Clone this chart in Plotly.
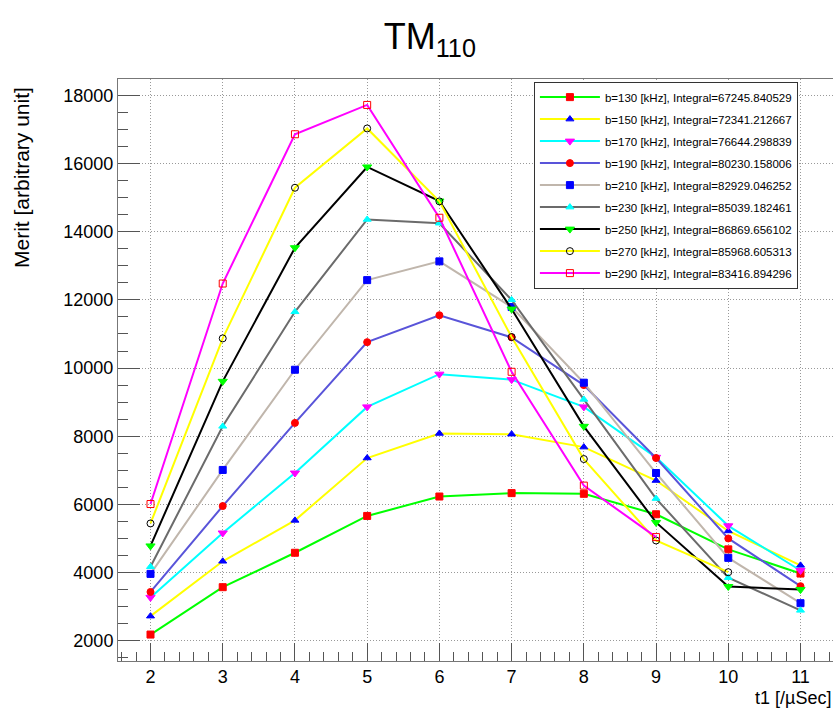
import plotly.graph_objects as go

t1 = [2, 3, 4, 5, 6, 7, 8, 9, 10, 11]

b130 = [2180, 3570, 4580, 5660, 6230, 6330, 6310, 5710, 4680, 3970]
b150 = [2720, 4330, 5530, 7360, 8080, 8060, 7680, 6700, 5220, 4210]
b170 = [3270, 5160, 6920, 8860, 9820, 9660, 8860, 7380, 5370, 4060]
b190 = [3430, 5950, 8390, 10760, 11550, 10900, 9500, 7360, 5000, 3600]
b210 = [3960, 7010, 9950, 12580, 13130, 11790, 9570, 6920, 4430, 3100]
b230 = [4170, 8290, 11650, 14360, 14250, 12000, 9080, 6170, 3850, 2890]
b250 = [4780, 9610, 13530, 15900, 14900, 11730, 8290, 5470, 3590, 3500]
b270 = [5440, 10870, 15290, 17030, 14890, 10910, 7330, 4940, 4010]
b290 = [6010, 12480, 16860, 17720, 14410, 9890, 6550, 5040]

labels = [
    "b=130 [kHz], Integral=67245.840529",
    "b=150 [kHz], Integral=72341.212667",
    "b=170 [kHz], Integral=76644.298839",
    "b=190 [kHz], Integral=80230.158006",
    "b=210 [kHz], Integral=82929.046252",
    "b=230 [kHz], Integral=85039.182461",
    "b=250 [kHz], Integral=86869.656102",
    "b=270 [kHz], Integral=85968.605313",
    "b=290 [kHz], Integral=83416.894296",
]

series = [b130, b150, b170, b190, b210, b230, b250, b270, b290]
line_colors = ["#00ff00", "#ffff00", "#00ffff", "#5954d9", "#c0b6ac",
               "#6b6b6b", "#000000", "#ffff00", "#ff00ff"]
marker_colors = ["#ff0000", "#0000ff", "#ff00ff", "#ff0000", "#0000ff",
                 "#00ffff", "#00ff00", "#000000", "#ff0000"]
symbols = ["square", "triangle-up", "triangle-down", "circle", "square",
           "triangle-up", "triangle-down", "circle-open", "square-open"]
sizes = [7, 7, 8, 7, 7, 7, 8, 7, 7]

fig = go.Figure()
for i, (ys, lab) in enumerate(zip(series, labels)):
    fig.add_trace(go.Scatter(
        x=t1[:len(ys)], y=ys, mode="lines+markers", name=lab,
        legendgroup=str(i),
        line=dict(color=line_colors[i], width=2),
        marker=dict(symbol=symbols[i], color=marker_colors[i], size=sizes[i],
                    line=dict(width=1, color=marker_colors[i]))
    ))

FONT = "Liberation Sans, Arial, Helvetica, sans-serif"
GRID = dict(showgrid=True, gridcolor="#999999", griddash="1px,2px",
            gridwidth=1, zeroline=False)

fig.update_layout(
    width=833, height=713,
    margin=dict(l=118, r=0, t=79, b=52, pad=0),
    paper_bgcolor="white", plot_bgcolor="white",
    font=dict(family=FONT, color="black"),
    title=dict(text="TM<sub>110</sub>", x=0.516, xanchor="center",
               y=0.949, yanchor="middle", font=dict(size=36, family=FONT)),
    showlegend=True,
    legend=dict(x=0.5817, y=0.9955, xanchor="left", yanchor="top",
                bgcolor="white", bordercolor="#333333", borderwidth=1,
                font=dict(size=11.5, family=FONT), tracegroupgap=3.0,
                itemwidth=60, traceorder="grouped"),
    xaxis=dict(range=[1.55, 11.45], tickvals=t1, ticks="inside", ticklen=18,
               tickcolor="#555555", showline=True, linecolor="#777777",
               mirror=True, tickfont=dict(size=18), ticklabelstandoff=-1,
               minor=dict(ticks="inside", ticklen=9, dtick=0.2, tick0=2,
                          tickcolor="#555555", showgrid=False), **GRID),
    yaxis=dict(range=[1404, 18481], dtick=2000, tick0=0, ticks="inside",
               tickformat="d",
               ticklen=22, tickcolor="#555555", showline=True,
               linecolor="#777777", mirror=True, tickfont=dict(size=18),
               minor=dict(ticks="inside", ticklen=10, dtick=500, tick0=0,
                          tickcolor="#555555", showgrid=False), **GRID),
    annotations=[
        dict(text="Merit [arbitrary unit]", textangle=-90, xref="paper",
             yref="paper", x=-0.1347, y=0.99, xanchor="center", yanchor="top",
             showarrow=False, font=dict(size=21, family=FONT)),
        dict(text="t1 [/µSec]", xref="paper", yref="paper", x=1.0,
             y=-0.0635, xanchor="right", yanchor="middle", showarrow=False,
             font=dict(size=18, family=FONT)),
    ],
)

fig.write_html("out.html")
